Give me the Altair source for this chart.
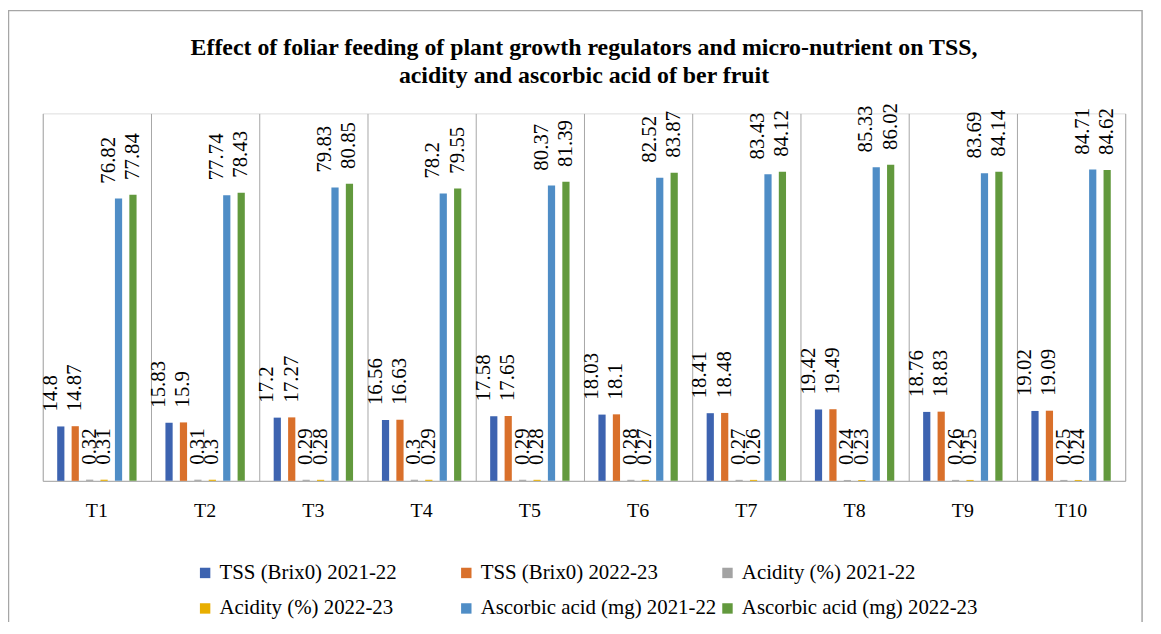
import altair as alt
import pandas as pd

treatments = ["T1", "T2", "T3", "T4", "T5", "T6", "T7", "T8", "T9", "T10"]
series_names = [
    "TSS (Brix0) 2021-22",
    "TSS (Brix0) 2022-23",
    "Acidity (%) 2021-22",
    "Acidity (%) 2022-23",
    "Ascorbic acid (mg) 2021-22",
    "Ascorbic acid (mg) 2022-23",
]
tss_2122 = [14.8, 15.83, 17.2, 16.56, 17.58, 18.03, 18.41, 19.42, 18.76, 19.02]
tss_2223 = [14.87, 15.9, 17.27, 16.63, 17.65, 18.1, 18.48, 19.49, 18.83, 19.09]
acid_2122 = [0.32, 0.31, 0.29, 0.3, 0.29, 0.28, 0.27, 0.24, 0.26, 0.25]
acid_2223 = [0.31, 0.3, 0.28, 0.29, 0.28, 0.27, 0.26, 0.23, 0.25, 0.24]
asc_2122 = [76.82, 77.74, 79.83, 78.2, 80.37, 82.52, 83.43, 85.33, 83.69, 84.71]
asc_2223 = [77.84, 78.43, 80.85, 79.55, 81.39, 83.87, 84.12, 86.02, 84.14, 84.62]
colors = ["#3d63b0", "#d9702b", "#a3a3a3", "#e8ae00", "#4f8dc6", "#62993d"]

all_series = [tss_2122, tss_2223, acid_2122, acid_2223, asc_2122, asc_2223]
rows = []
for name, vals in zip(series_names, all_series):
    for t, v in zip(treatments, vals):
        rows.append({"treatment": t, "series": name, "value": v, "label": str(v)})
df = pd.DataFrame(rows)

# legend fills column by column (2 rows): reorder so it reads row by row
legend_order = [0, 3, 1, 4, 2, 5]
color_domain = [series_names[i] for i in legend_order]
color_range = [colors[i] for i in legend_order]

SERIF = "Liberation Serif"
GRID = "#a6a6a6"

x_enc = alt.X(
    "treatment:N",
    sort=treatments,
    scale=alt.Scale(paddingInner=0, paddingOuter=0),
    axis=alt.Axis(
        title=None, labelAngle=0, grid=True, bandPosition=0, gridColor=GRID,
        gridWidth=1, ticks=False, domainColor=GRID, domainWidth=1,
        labelFont=SERIF, labelFontSize=20, labelColor="black", labelPadding=20,
    ),
)
xoff_enc = alt.XOffset(
    "series:N", sort=series_names,
    scale=alt.Scale(paddingInner=0.5, paddingOuter=1),
)
y_enc = alt.Y(
    "value:Q",
    scale=alt.Scale(domain=[0, 100]),
    axis=alt.Axis(orient="right", labels=False, ticks=False, grid=False,
                  title=None, domainColor=GRID, domainWidth=1),
)

base = alt.Chart(df)

bars = base.mark_bar().encode(
    x=x_enc,
    xOffset=xoff_enc,
    y=y_enc,
    color=alt.Color(
        "series:N",
        sort=color_domain,
        scale=alt.Scale(domain=color_domain, range=color_range),
        legend=alt.Legend(
            title=None, orient="none", legendX=153, legendY=452, columns=3,
            symbolType="square", symbolSize=110, symbolStrokeWidth=0,
            labelFont=SERIF, labelFontSize=21, labelColor="black",
            labelLimit=400, gridAlign="all", columnPadding=0, rowPadding=14,
            symbolOffset=0, labelOffset=4,
        ),
    ),
)

shifted = ["TSS (Brix0) 2021-22", "Ascorbic acid (mg) 2021-22"]

text_a = base.transform_filter(
    alt.FieldOneOfPredicate(field="series", oneOf=shifted)
).mark_text(
    angle=270, align="left", baseline="middle", dx=15, dy=-10,
    font=SERIF, fontSize=21, color="black",
).encode(x=x_enc, xOffset=xoff_enc, y=y_enc, text="label:N")

text_b = base.transform_filter(
    {"not": alt.FieldOneOfPredicate(field="series", oneOf=shifted).to_dict()}
).mark_text(
    angle=270, align="left", baseline="middle", dx=15,
    font=SERIF, fontSize=21, color="black",
).encode(x=x_enc, xOffset=xoff_enc, y=y_enc, text="label:N")

border = alt.Chart(alt.Data(values=[{"k": 1}])).mark_rect(
    fillOpacity=0, stroke=GRID, strokeWidth=1.5
).encode(
    x=alt.value(-34.5), x2=alt.value(1107), y=alt.value(-103.5), y2=alt.value(700)
)

chart = alt.layer(border, bars, text_a, text_b).properties(
    width=1090,
    height=370,
    padding={"left": 35, "top": 104, "right": 28, "bottom": 140},
    autosize=alt.AutoSizeParams(type="none"),
    title=alt.TitleParams(
        text=[
            "Effect of foliar feeding of plant growth regulators and micro-nutrient on TSS,",
            "acidity and ascorbic acid of ber fruit",
        ],
        font=SERIF, fontSize=24, fontWeight="bold", color="black",
        anchor="middle", offset=0, dy=79, lineHeight=29, frame="group",
    ),
).configure_view(stroke=None).configure(background="white")

chart.save("out.html", embed_options={"renderer": "svg", "actions": False})
